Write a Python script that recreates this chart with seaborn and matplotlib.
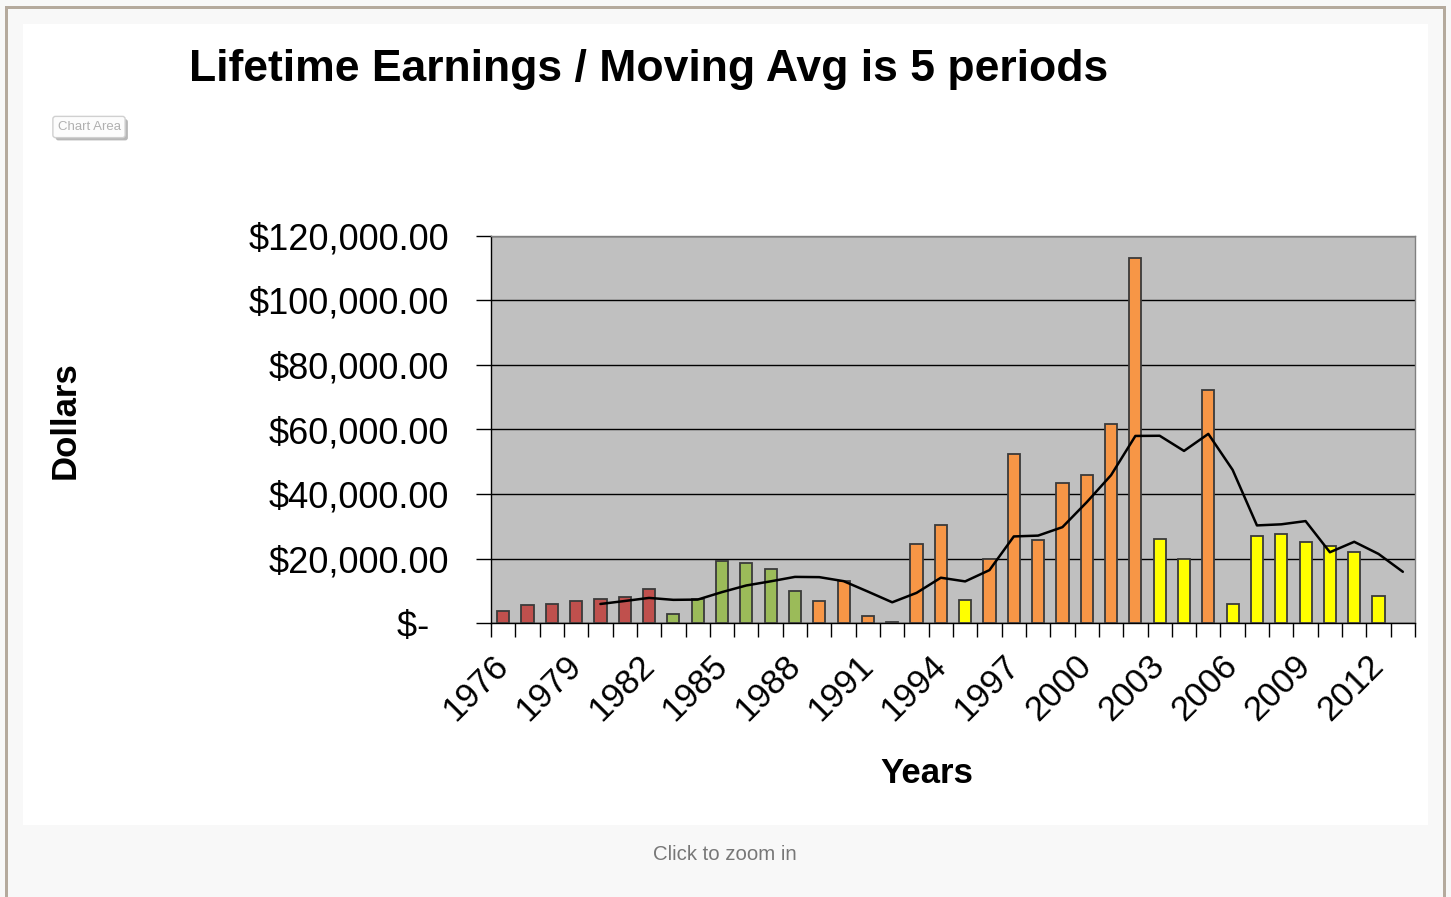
import matplotlib
matplotlib.use("Agg")
import matplotlib.pyplot as plt
import matplotlib.patches as patches
import matplotlib.patheffects as pe
from matplotlib.ticker import FixedLocator, FuncFormatter
import numpy as np
import pandas as pd
import seaborn as sns

# earnings per year
years = list(range(1976, 2014))
earnings = [3600, 5600, 5900, 6900, 7500, 8200, 10400,
            2900, 7300, 19100, 18500, 16800, 9800,
            6900, 12900, 2300, 200, 24400, 30400, 7200, 19800, 52400, 25700,
            43500, 45900, 61700, 113200, 26000, 20000, 72300, 5900,
            27100, 27700, 25000, 24000, 22100, 8300, 0]
# bar colour group per year
groups = (['red'] * 7 + ['green'] * 6 + ['orange'] * 6 + ['yellow'] +
          ['orange'] * 7 + ['yellow'] * 2 + ['orange'] + ['yellow'] * 8)
group_colors = {'red': '#c0504d', 'green': '#9bbb59',
                'orange': '#f79646', 'yellow': '#ffff00'}
ytick_vals = [0, 20000, 40000, 60000, 80000, 100000, 120000]

df = pd.DataFrame({'year': [str(y) for y in years], 'earnings': earnings, 'group': groups})
df['ma'] = df['earnings'].rolling(5).mean()   # 5 period moving average

sns.set_style("white")
plt.rcParams['font.family'] = ['Liberation Sans', 'DejaVu Sans']
plt.rcParams['text.color'] = 'black'
plt.rcParams['xtick.color'] = 'black'
plt.rcParams['ytick.color'] = 'black'

fig = plt.figure(figsize=(14.51, 8.97), dpi=100, facecolor='#f8f8f8')
W, H = 1451, 897

# page decoration: white chart area and frame
fig.patches.append(patches.Rectangle((23 / W, 1 - 825 / H), (1428 - 23) / W, (825 - 24) / H,
                                     transform=fig.transFigure, facecolor='white',
                                     edgecolor='none', zorder=-2))
frame = '#b5aa9d'
for rect in [(5 / W, 0, 3 / W, 1 - 6 / H),
             (5 / W, 1 - 9 / H, (1446 - 5) / W, 3 / H),
             (1443 / W, 0, 3 / W, 1 - 6 / H)]:
    fig.patches.append(patches.Rectangle(rect[:2], rect[2], rect[3], transform=fig.transFigure,
                                         facecolor=frame, edgecolor='none', zorder=-1))

ax = fig.add_axes([491 / W, 1 - 623 / H, (1415 - 491) / W, (623 - 236) / H])
ax.set_zorder(2)
ax.set_facecolor('#c0c0c0')

sns.barplot(data=df, x='year', y='earnings', hue='group', palette=group_colors,
            dodge=False, width=0.5, edgecolor='#3a3a3a', linewidth=1.3, saturation=1,
            legend=False, ax=ax, zorder=3)
# no outline for empty years
for bar in ax.patches:
    if bar.get_height() == 0:
        bar.set_linewidth(0)

pos = np.arange(len(years))
ax.plot(pos, df['ma'], color='black', linewidth=1.8, zorder=4)

ax.set_xlim(-0.5, len(years) - 0.5)
ax.set_ylim(0, 120000)

# y axis
ax.set_yticks(ytick_vals)
ax.yaxis.set_major_formatter(FuncFormatter(
    lambda v, p: '$-  ' if v == 0 else '${:,.2f}'.format(v)))
ax.tick_params(axis='y', length=11, width=1, color='black', labelsize=26, pad=19,
               direction='out', left=True)
for lbl in ax.get_yticklabels():
    lbl.set_verticalalignment('center_baseline')
ax.yaxis.grid(True, color='black', linewidth=1)
ax.set_axisbelow(True)

# x axis: labels every 3 years, ticks between categories
ax.set_xticks(pos[::3])
ax.set_xticklabels([str(y) for y in years[::3]], rotation=45, ha='right', va='center',
                   rotation_mode='anchor', fontsize=25)
ax.tick_params(axis='x', length=0, pad=27)
ax.xaxis.set_minor_locator(FixedLocator(np.arange(-0.5, len(years), 1.0)))
ax.tick_params(axis='x', which='minor', length=10, width=1, color='black',
               direction='out', bottom=True)

for s in ['left', 'bottom']:
    ax.spines[s].set_color('black')
    ax.spines[s].set_linewidth(1)
for s in ['top', 'right']:
    ax.spines[s].set_color('#808080')
    ax.spines[s].set_linewidth(1)

ax.set_xlabel('')
ax.set_ylabel('')

fig.text(649 / W, 1 - 69 / H, 'Lifetime Earnings / Moving Avg is 5 periods',
         ha='center', va='center', fontsize=32, fontweight='bold')
fig.text(65 / W, 1 - 420 / H, 'Dollars', rotation=90, ha='center', va='center',
         fontsize=25, fontweight='bold')
fig.text(927 / W, 1 - 773 / H, 'Years', ha='center', va='center',
         fontsize=25, fontweight='bold')
fig.text(725 / W, 1 - 854 / H, 'Click to zoom in', ha='center', va='center',
         fontsize=14.7, color='#777777')
tip = fig.text(89 / W, 1 - 127 / H, 'Chart Area', ha='center', va='center', fontsize=9.5,
               color='#b0b0b0',
               bbox=dict(boxstyle='round,pad=0.35,rounding_size=0.2', facecolor='#fcfcfc',
                         edgecolor='#d0d0d0'))
tip.get_bbox_patch().set_path_effects([pe.SimplePatchShadow(offset=(2, -2), alpha=0.4),
                                       pe.Normal()])

fig.savefig('out.png', dpi=100, facecolor=fig.get_facecolor())
